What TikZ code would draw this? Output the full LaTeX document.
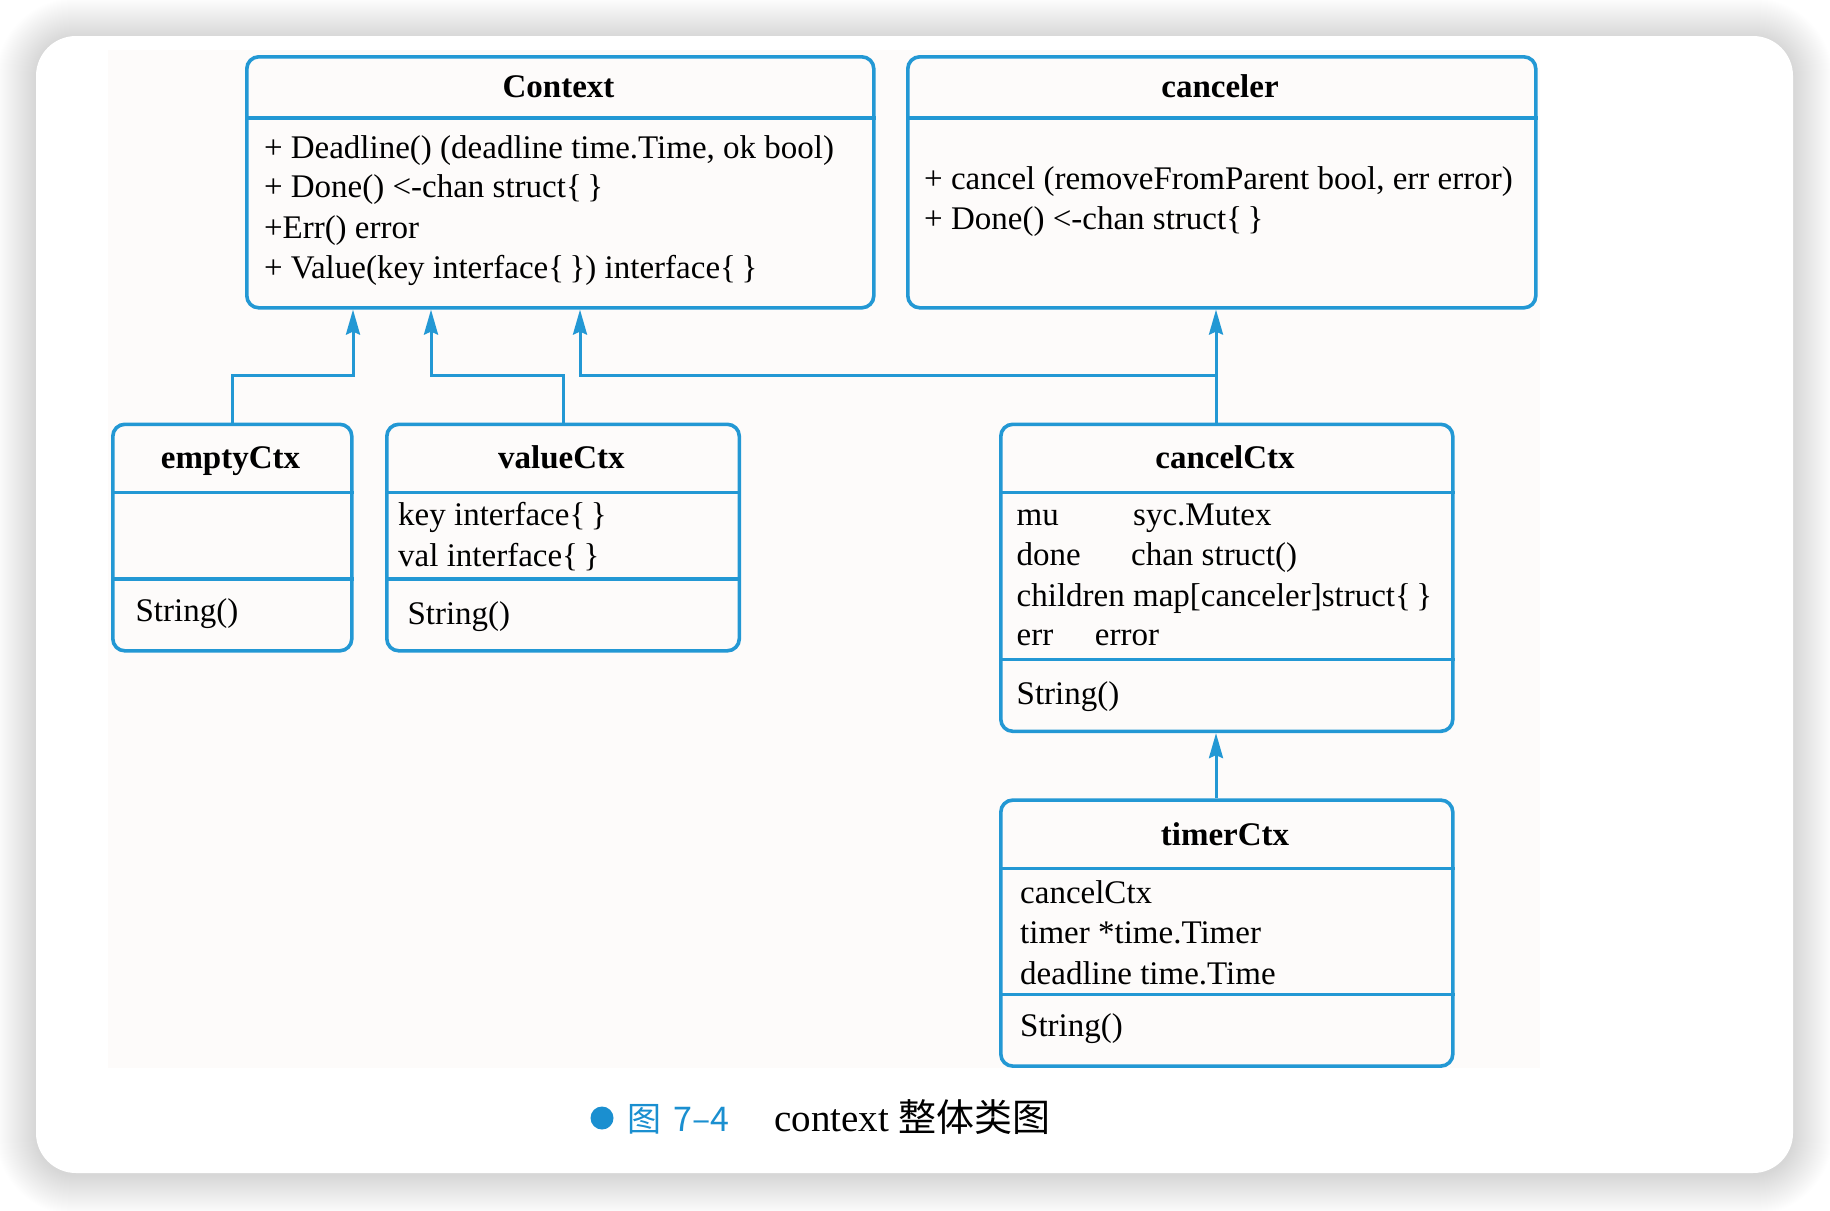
\documentclass[tikz,border=0pt]{standalone}
\usepackage{fontspec}
\setmainfont{Liberation Serif}
\newfontfamily\cjkfont{Noto Sans CJK SC}
\usetikzlibrary{arrows.meta,calc}
\definecolor{boxblue}{HTML}{2398D4}
\definecolor{capblue}{HTML}{1A8FD0}
\definecolor{scanbg}{HTML}{FDFBFA}
\begin{document}
\begin{tikzpicture}[x=1pt,y=-1pt,
  umlbox/.style={draw=boxblue, line width=3.6pt, rounded corners=12pt, inner sep=0pt, anchor=north west},
  divline/.style={draw=boxblue, line width=3.2pt},
  conn/.style={draw=boxblue, line width=3pt, -{Stealth[length=25pt,width=14pt,inset=3pt]}},
  ttl/.style={font=\fontsize{33}{40}\selectfont\bfseries, anchor=base, inner sep=0pt},
  mem/.style={font=\fontsize{33}{40}\selectfont, anchor=base west, inner sep=0pt},
]
\useasboundingbox (0,0) rectangle (1830,1210);
\fill[white] (0,0) rectangle (1830,1210);
% soft shadow round the card
\foreach \i in {1,2,...,40} {
  \fill[black, opacity=0.0055, rounded corners={40pt+\i pt}]
    (36-\i,36-\i+2) rectangle (1793+\i,1173+\i+2);
}
% card
\fill[white, rounded corners=40pt] (36,36) rectangle (1793,1173);
\fill[scanbg] (108,50) rectangle (1540,1068);

% boxes
\node[umlbox, minimum width=627pt, minimum height=251pt] (Context) at (245,55) {};
\node[umlbox, minimum width=628pt, minimum height=251pt] (canceler) at (906,55) {};
\node[umlbox, minimum width=239pt, minimum height=226.5pt] (emptyCtx) at (111,422.5) {};
\node[umlbox, minimum width=352.5pt, minimum height=226.5pt] (valueCtx) at (385,422.5) {};
\node[umlbox, minimum width=452pt, minimum height=307pt] (cancelCtx) at (999,422.5) {};
\node[umlbox, minimum width=452pt, minimum height=266pt] (timerCtx) at (999,798.3) {};

% dividers
\draw[divline] ($(Context.north west)+(0,63)$) -- ($(Context.north east)+(0,63)$);
\draw[divline] ($(canceler.north west)+(0,63)$) -- ($(canceler.north east)+(0,63)$);
\draw[divline] ($(emptyCtx.north west)+(0,70)$) -- ($(emptyCtx.north east)+(0,70)$);
\draw[divline] ($(emptyCtx.north west)+(0,156.4)$) -- ($(emptyCtx.north east)+(0,156.4)$);
\draw[divline] ($(valueCtx.north west)+(0,70)$) -- ($(valueCtx.north east)+(0,70)$);
\draw[divline] ($(valueCtx.north west)+(0,156.4)$) -- ($(valueCtx.north east)+(0,156.4)$);
\draw[divline] ($(cancelCtx.north west)+(0,70)$) -- ($(cancelCtx.north east)+(0,70)$);
\draw[divline] ($(cancelCtx.north west)+(0,237)$) -- ($(cancelCtx.north east)+(0,237)$);
\draw[divline] ($(timerCtx.north west)+(0,70)$) -- ($(timerCtx.north east)+(0,70)$);
\draw[divline] ($(timerCtx.north west)+(0,196)$) -- ($(timerCtx.north east)+(0,196)$);

% Context texts
\node[ttl] (tContext) at (558.5,97.5) {Context};
\node[mem] (c1) at (263.8,158) {+ Deadline() (deadline time.Time, ok bool)};
\node[mem] (c2) at (263.8,197.7) {+ Done() <-chan struct\{\,\}};
\node[mem] (c3) at (263.8,238.6) {+Err() error};
\node[mem] (c4) at (263.8,278.3) {+ Value(key interface\{\,\}) interface\{\,\}};

% canceler texts
\node[ttl] (tCanceler) at (1220,97.5) {canceler};
\node[mem] (k1) at (924,189.6) {+ cancel (removeFromParent bool, err error)};
\node[mem] (k2) at (924,229.2) {+ Done() <-chan struct\{\,\}};

% emptyCtx texts
\node[ttl] (tEmpty) at (230.5,468.5) {emptyCtx};
\node[mem] (e1) at (135.4,621.4) {String()};

% valueCtx texts
\node[ttl] (tValue) at (561.4,468.5) {valueCtx};
\node[mem] (v1) at (398,525.7) {key interface\{\,\}};
\node[mem] (v2) at (398,566.5) {val interface\{\,\}};
\node[mem] (v3) at (407.3,624.9) {String()};

% cancelCtx texts
\node[ttl] (tCancelCtx) at (1225,468.5) {cancelCtx};
\node[mem] (cc1) at (1016.5,525.7) {\makebox[116.5pt][l]{mu}syc.Mutex};
\node[mem] (cc2) at (1016.5,565.4) {\makebox[114.5pt][l]{done}chan struct()};
\node[mem] (cc3) at (1016.5,606.2) {children map[canceler]struct\{\,\}};
\node[mem] (cc4) at (1016.5,645.9) {\makebox[78.2pt][l]{err}error};
\node[mem] (cc5) at (1016.5,704.3) {String()};

% timerCtx texts
\node[ttl] (tTimer) at (1225,845.5) {timerCtx};
\node[mem] (t1) at (1020,903.8) {cancelCtx};
\node[mem] (t2) at (1020,943.5) {timer *time.Timer};
\node[mem] (t3) at (1020,984.4) {deadline time.Time};
\node[mem] (t4) at (1020,1036.9) {String()};

% connector helper coordinates
\coordinate (bus) at (0,375);
\coordinate (xe) at (353,0);
\coordinate (xv) at (431,0);
\coordinate (xc) at (580,0);
\coordinate (xk) at (1216,0);

\draw[conn] (emptyCtx.north) |- (xe |- bus) -- (xe |- Context.south);
\draw[conn] (valueCtx.north) |- (xv |- bus) -- (xv |- Context.south);
\draw[conn] (xk |- cancelCtx.north) -- (xk |- canceler.south);
\draw[conn] (xk |- bus) -- (xc |- bus) -- (xc |- Context.south);
\draw[conn] (xk |- timerCtx.north) -- (xk |- cancelCtx.south);

% caption
\node[circle, fill=capblue, minimum size=23pt, inner sep=0pt] (dot) at (602,1118) {};
\node[anchor=base west, inner sep=0pt, text=capblue, font=\cjkfont\fontsize{34}{40}\selectfont] (capnum) at (627,1131) {图\hspace{12pt}7–4};
\node[anchor=base west, inner sep=0pt, font=\fontsize{39}{44}\selectfont] (captxt) at (774,1131) {context {\cjkfont\fontsize{38}{44}\selectfont 整体类图}};
\end{tikzpicture}
\end{document}
